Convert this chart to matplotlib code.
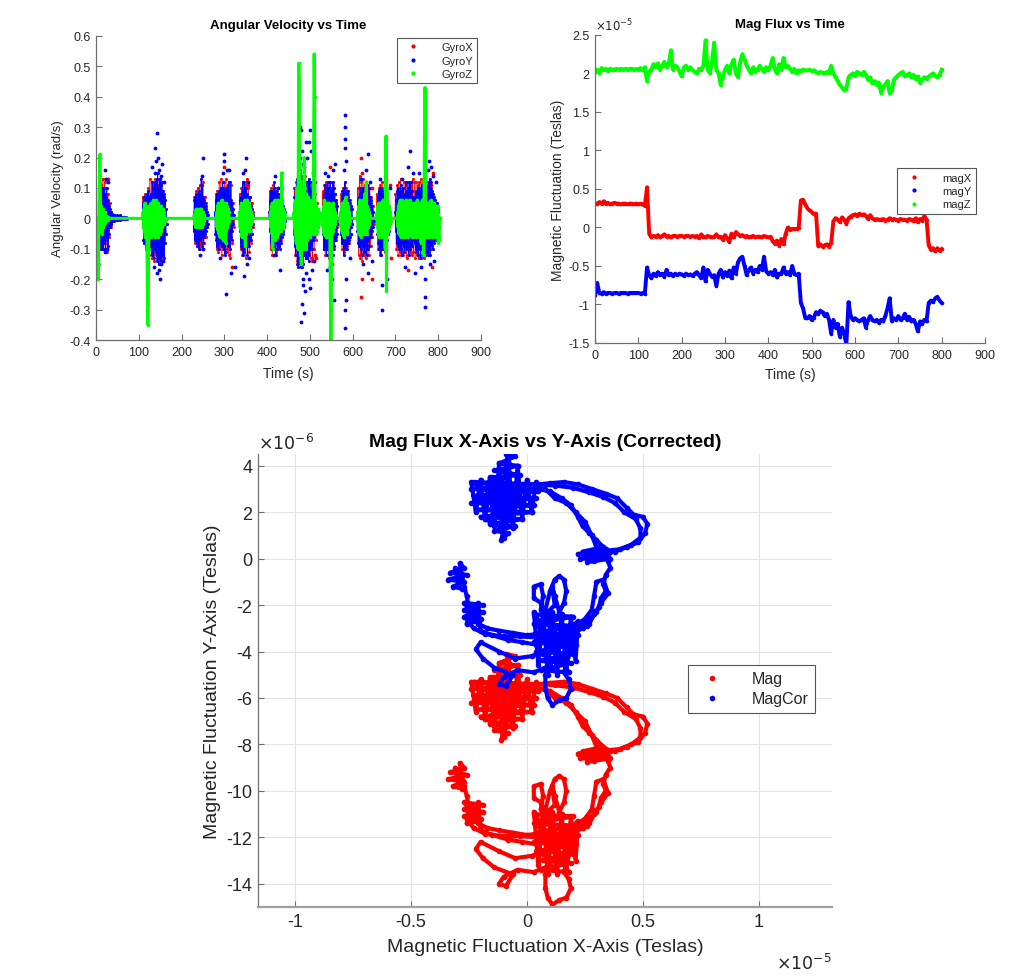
import numpy as np
import matplotlib
matplotlib.use("Agg")
import matplotlib.pyplot as plt
from matplotlib.lines import Line2D
from matplotlib.ticker import FormatStrFormatter

plt.rcParams['font.family'] = ['Liberation Sans', 'DejaVu Sans']
plt.rcParams['axes.unicode_minus'] = False

# ---------------- gyro data (rad/s), bursts sampled every GYRO_STEP_* seconds ----------------
GYRO_STEP_X = 2
GYRO_STEP_Y = 1
GYRO_STEP_Z = 1
GYRO_END = 803

gyro_x_bursts = [
    (8, [0.09, -0.1, 0.11, -0.09, 0.13, -0.1, 0.12, -0.08, 0.1, -0.11, 0.08, -0.06, 0.05, -0.03, 0.02]),
    (110, [0.07, -0.08, 0.08, -0.1, 0.07, -0.09, 0.1, -0.12, 0.13, -0.1, 0.12, -0.13, 0.11, -0.14, 0.13, -0.12,
           0.1, -0.1, 0.11, -0.11, 0.12, -0.1, 0.09, -0.08, 0.07, -0.05, 0.03, -0.02]),
    (230, [0.07, -0.08, 0.09, -0.07, 0.1, -0.09, 0.11, -0.1, 0.08, -0.09, 0.12, -0.08, 0.07, -0.06, 0.05, -0.03]),
    (280, [0.08, -0.1, 0.09, -0.11, 0.12, -0.09, 0.13, -0.12, 0.1, -0.1, 0.12, -0.11, 0.13, -0.1, 0.1, -0.12,
           0.09, -0.13, 0.11, -0.08, 0.05, -0.03]),
    (336, [0.08, -0.1, 0.1, -0.12, 0.12, -0.1, 0.11, -0.13, 0.13, -0.09, 0.1, -0.11, 0.07, -0.08, 0.05, -0.03, 0.02]),
    (406, [0.09, -0.1, 0.1, -0.12, 0.11, -0.1, 0.1, -0.11, 0.09, -0.1, 0.08, -0.09, 0.07, -0.07, 0.05, -0.04, 0.03, -0.02]),
    (464, [0.1, -0.12, 0.12, -0.14, 0.15, -0.13, 0.14, -0.12, 0.13, -0.15, 0.12, -0.12, 0.14, -0.13, 0.12, -0.13,
           0.11, -0.12, 0.1, -0.13, 0.12, -0.14, 0.12, -0.1, 0.08, -0.07, 0.05, -0.03]),
    (530, [0.09, -0.1, 0.11, -0.12, 0.12, -0.1, 0.1, -0.13, 0.12, -0.11, 0.1, -0.12, 0.11, -0.1, 0.08, -0.07, 0.05, -0.03]),
    (573, [0.08, -0.1, 0.1, -0.11, 0.09, -0.1, 0.1, -0.09, 0.08, -0.08, 0.06, -0.05, 0.04, -0.02]),
    (612, [0.1, -0.12, 0.14, -0.13, 0.12, -0.14, 0.13, -0.12, 0.11, -0.13, 0.12, -0.1, 0.11, -0.12, 0.1, -0.09,
           0.07, -0.06, 0.04, -0.02]),
    (657, [0.08, -0.1, 0.1, -0.12, 0.11, -0.12, 0.12, -0.1, 0.1, -0.11, 0.08, -0.09, 0.06, -0.05, 0.04, -0.02]),
    (700, [0.08, -0.1, 0.11, -0.12, 0.12, -0.11, 0.13, -0.12, 0.1, -0.12, 0.12, -0.1, 0.11, -0.13, 0.12, -0.12,
           0.1, -0.11, 0.12, -0.12, 0.13, -0.11, 0.12, -0.13, 0.12, -0.12, 0.11, -0.13, 0.12, -0.12, 0.13, -0.1,
           0.12, -0.13, 0.11, -0.12, 0.12, -0.11, 0.1, -0.12, 0.09, -0.1, 0.08, -0.07, 0.06, -0.05, 0.04, -0.03,
           0.02, -0.02, 0.02]),
]
gyro_x_outliers = [(27, 0.13), (25, -0.1), (150, 0.13), (152, -0.13), (300, 0.17), (318, -0.16), (356, 0.11),
                   (505, -0.13), (512, 0.12), (515, -0.13), (512, -0.12), (548, 0.17), (552, -0.15), (620, 0.2),
                   (620, -0.26), (622, 0.15), (622, -0.2), (645, -0.2), (645, 0.1), (678, 0.13), (688, 0.11),
                   (690, -0.13), (730, -0.17), (782, 0.11), (786, -0.16), (788, 0.15), (770, -0.12)]

gyro_y_bursts = [
    (8, [-0.05, 0.06, -0.08, 0.09, -0.1, 0.08, -0.09, 0.1, -0.1, 0.09, -0.08, 0.1, -0.07, 0.08, -0.1, 0.07,
         -0.06, 0.1, -0.05, 0.06, -0.09, 0.05, -0.05, 0.04, -0.03, 0.03, -0.02, 0.02, -0.02, 0.015, -0.01, 0.012,
         -0.01, 0.01, -0.008, 0.01, -0.006, 0.008, -0.005, 0.006, -0.006, 0.01, -0.004, 0.008, -0.005, 0.006,
         -0.003, 0.01, -0.004, 0.005, -0.003, 0.004, -0.002, 0.006, -0.003, 0.003, -0.002, 0.004, -0.002, 0.002,
         -0.001, 0.003, -0.001, 0.002, -0.001]),
    (110, [0.05, -0.07, 0.07, -0.08, 0.06, -0.06, 0.07, -0.09, 0.05, -0.1, 0.08, -0.04, 0.09, -0.06, 0.07, -0.03,
           0.03, -0.05, 0.08, -0.1, 0.07, -0.12, 0.12, -0.09, 0.08, -0.13, 0.1, -0.08, 0.12, -0.1, 0.12, -0.11,
           0.13, -0.14, 0.15, -0.12, 0.1, -0.15, 0.13, -0.1, 0.13, -0.14, 0.11, -0.15, 0.12, -0.12, 0.09, -0.1,
           0.08, -0.13, 0.07, -0.08, 0.06, -0.05, 0.03, -0.02]),
    (228, [0.02, -0.04, 0.06, -0.07, 0.07, -0.06, 0.08, -0.08, 0.06, -0.09, 0.07, -0.08, 0.09, -0.1, 0.06, -0.07,
           0.08, -0.06, 0.13, -0.09, 0.11, -0.06, 0.07, -0.08, 0.06, -0.06, 0.05, -0.05, 0.04, -0.04, 0.03, -0.03,
           0.02, -0.02, 0.01]),
    (278, [0.02, -0.05, 0.06, -0.07, 0.08, -0.09, 0.07, -0.08, 0.06, -0.1, 0.09, -0.07, 0.08, -0.08, 0.1, -0.06,
           0.07, -0.09, 0.12, -0.08, 0.1, -0.1, 0.09, -0.12, 0.08, -0.11, 0.1, -0.08, 0.09, -0.07, 0.11, -0.09,
           0.12, -0.08, 0.07, -0.1, 0.12, -0.06, 0.06, -0.07, 0.05, -0.04, 0.03, -0.02, 0.01]),
    (335, [0.02, -0.04, 0.06, -0.08, 0.07, -0.09, 0.08, -0.1, 0.12, -0.12, 0.09, -0.11, 0.12, -0.08, 0.1, -0.07,
           0.1, -0.09, 0.08, -0.12, 0.07, -0.08, 0.06, -0.09, 0.07, -0.06, 0.05, -0.07, 0.04, -0.05, 0.03, -0.02,
           0.01]),
    (405, [0.02, -0.04, 0.06, -0.08, 0.09, -0.07, 0.08, -0.1, 0.09, -0.08, 0.1, -0.09, 0.12, -0.1, 0.08, -0.12,
           0.09, -0.08, 0.07, -0.1, 0.08, -0.07, 0.06, -0.09, 0.07, -0.1, 0.06, -0.08, 0.05, -0.06, 0.06, -0.05,
           0.04, -0.04, 0.03, -0.03, 0.02, -0.01]),
    (463, [-0.05, 0.07, -0.09, 0.1, -0.12, 0.09, -0.1, 0.13, -0.15, 0.12, -0.16, 0.14, -0.13, 0.16, -0.15, 0.15,
           -0.16, 0.14, -0.16, 0.13, -0.12, 0.12, -0.15, 0.1, -0.12, 0.12, -0.1, 0.1, -0.13, 0.12, -0.09, 0.08,
           -0.12, 0.12, -0.14, 0.13, -0.12, 0.12, -0.1, 0.09, -0.08, 0.07, -0.1, 0.06, -0.07, 0.05, -0.06, 0.07,
           -0.05, 0.04, -0.03, 0.02, -0.01]),
    (530, [0.02, -0.05, 0.07, -0.1, 0.08, -0.09, 0.11, -0.08, 0.1, -0.12, 0.09, -0.1, 0.12, -0.08, 0.1, -0.09,
           0.08, -0.11, 0.12, -0.07, 0.09, -0.1, 0.07, -0.12, 0.12, -0.1, 0.1, -0.09, 0.08, -0.07, 0.06, -0.06,
           0.05, -0.05, 0.04, -0.02]),
    (572, [0.02, -0.05, 0.07, -0.08, 0.09, -0.07, 0.08, -0.12, 0.1, -0.1, 0.12, -0.09, 0.09, -0.08, 0.08, -0.1,
           0.07, -0.08, 0.09, -0.07, 0.06, -0.06, 0.05, -0.05, 0.04, -0.03, 0.03, -0.02]),
    (610, [0.02, -0.04, 0.06, -0.08, 0.07, -0.09, 0.08, -0.07, 0.1, -0.1, 0.08, -0.12, 0.09, -0.08, 0.1, -0.09,
           0.07, -0.11, 0.08, -0.08, 0.12, -0.09, 0.09, -0.12, 0.11, -0.1, 0.08, -0.07, 0.1, -0.09, 0.07, -0.06,
           0.06, -0.06, 0.05, -0.04, 0.04, -0.03, 0.02, -0.01]),
    (657, [0.02, -0.05, 0.07, -0.08, 0.09, -0.1, 0.08, -0.09, 0.1, -0.12, 0.1, -0.09, 0.09, -0.1, 0.08, -0.09,
           0.07, -0.1, 0.08, -0.08, 0.07, -0.09, 0.06, -0.07, 0.05, -0.05, 0.04, -0.04, 0.03, -0.03, 0.02, -0.01]),
    (700, [0.02, -0.04, 0.06, -0.08, 0.09, -0.07, 0.1, -0.09, 0.08, -0.1, 0.09, -0.08, 0.11, -0.1, 0.08, -0.12,
           0.09, -0.08, 0.1, -0.09, 0.07, -0.11, 0.08, -0.09, 0.12, -0.08, 0.09, -0.1, 0.08, -0.07, 0.1, -0.12,
           0.12, -0.09, 0.08, -0.1, 0.12, -0.08, 0.09, -0.09, 0.07, -0.07, 0.06, -0.05, 0.05, -0.08, 0.07, -0.1,
           0.09, -0.11, 0.08, -0.09, 0.1, -0.12, 0.09, -0.08, 0.1, -0.1, 0.08, -0.13, 0.09, -0.09, 0.11, -0.1,
           0.09, -0.12, 0.1, -0.12, 0.11, -0.12, 0.12, -0.1, 0.09, -0.11, 0.1, -0.09, 0.11, -0.12, 0.12, -0.1,
           0.13, -0.12, 0.1, -0.08, 0.12, -0.09, 0.09, -0.1, 0.08, -0.07, 0.07, -0.08, 0.06, -0.06, 0.05, -0.07,
           0.05, -0.05, 0.04, -0.04, 0.03, -0.03]),
]
gyro_y_outliers = [(22, 0.16), (24, 0.13), (20, -0.11), (26, -0.1), (28, 0.12),
                   (132, 0.17), (135, -0.16), (138, 0.23), (140, 0.19), (142, 0.28), (143, -0.18), (145, 0.2),
                   (147, -0.17), (148, 0.16), (150, -0.2), (151, 0.14), (153, -0.15), (155, 0.18), (157, -0.14),
                   (160, 0.12), (145, -0.13), (139, 0.15),
                   (247, 0.14), (249, 0.2), (251, -0.1), (243, -0.12),
                   (296, 0.15), (299, 0.21), (300, 0.19), (304, -0.25), (307, 0.16), (311, 0.16), (315, -0.18),
                   (325, -0.16), (290, -0.13),
                   (344, 0.15), (345, -0.19), (348, 0.16), (350, 0.2), (352, -0.15), (355, 0.12), (358, -0.13),
                   (418, 0.14), (425, 0.1), (431, -0.17), (415, -0.12),
                   (476, 0.2), (478, 0.3), (479, -0.34), (480, 0.29), (481, -0.28), (482, 0.22), (483, -0.2),
                   (484, 0.18), (485, -0.22), (487, 0.17), (489, -0.24), (490, 0.25), (494, 0.2), (497, -0.2),
                   (499, 0.25), (500, 0.29), (501, -0.23), (502, 0.22), (505, -0.17), (508, 0.15), (510, -0.14),
                   (486, -0.31), (492, -0.18),
                   (535, 0.15), (543, 0.14), (548, -0.16), (555, 0.16), (557, -0.27), (558, 0.18), (540, -0.17),
                   (552, -0.2),
                   (580, 0.16), (581, 0.26), (582, 0.34), (582, 0.3), (582, 0.23), (583, -0.36), (583, -0.3),
                   (584, -0.27), (584, -0.2), (585, 0.19), (594, -0.13),
                   (620, 0.13), (630, 0.16), (635, 0.21), (636, -0.18), (640, 0.12), (625, -0.15), (645, -0.14),
                   (665, 0.13), (668, -0.3), (668, -0.22), (675, 0.12), (680, -0.2), (688, 0.1),
                   (715, 0.13), (722, -0.16), (730, 0.17), (733, 0.22), (740, 0.15), (745, -0.18), (755, 0.15),
                   (760, -0.16), (768, -0.29), (768, -0.26), (769, -0.2), (775, 0.16), (778, 0.19), (780, -0.15),
                   (784, 0.17), (788, 0.14), (790, -0.14), (795, 0.12)]

gyro_z_bursts = [
    (3, [0.0, -0.1, -0.2, -0.15, 0.05, 0.14, 0.21, 0.12, -0.03, 0.04, -0.05, 0.03, -0.04, 0.03, -0.03, 0.02,
         -0.02, 0.02, -0.015, 0.01, -0.01, 0.008, -0.006, 0.005, -0.004, 0.003]),
    (110, [0.02, -0.03, 0.03, -0.04, 0.05, -0.06, 0.04, -0.05, 0.03, -0.08, -0.2, -0.35, -0.28, -0.1, 0.04, -0.05,
           0.04, -0.03, 0.05, -0.06, 0.04, -0.04, 0.05, -0.05, 0.06, -0.04, 0.05, -0.06, 0.04, -0.05, 0.06, -0.04,
           0.05, -0.05, 0.04, -0.06, 0.05, -0.04, 0.04, -0.05, 0.04, -0.03, 0.04, -0.04, 0.03, -0.03, 0.03, -0.02,
           0.02, -0.02, 0.01, -0.01]),
    (230, [0.01, -0.02, 0.02, -0.03, 0.03, -0.02, 0.03, -0.03, 0.02, -0.03, 0.03, -0.02, 0.02, -0.03, 0.03, -0.02,
           0.03, -0.03, 0.02, -0.02, 0.02, -0.02, 0.01, -0.01]),
    (282, [0.02, -0.03, 0.04, -0.04, 0.05, -0.05, 0.04, -0.06, 0.05, -0.04, 0.04, -0.05, 0.06, -0.04, 0.05, -0.07,
           0.04, -0.05, 0.05, -0.06, 0.04, -0.08, 0.05, -0.04, 0.04, -0.03, 0.03, -0.02, 0.02, -0.01]),
    (336, [0.02, -0.03, 0.04, -0.04, 0.05, -0.06, 0.04, -0.05, 0.05, -0.04, 0.04, -0.05, 0.06, -0.09, 0.04, -0.05,
           0.05, -0.04, 0.06, -0.03, 0.04, -0.04, 0.05, -0.04, 0.03, -0.03, 0.02, -0.02, 0.01]),
    (408, [0.02, -0.03, 0.04, -0.05, 0.05, -0.1, 0.05, -0.06, 0.04, -0.05, 0.06, -0.07, 0.05, -0.04, 0.05, -0.06,
           0.04, -0.05, 0.06, -0.04, 0.05, -0.03, 0.04, -0.04, 0.03, -0.04, 0.15, 0.1, -0.03, 0.03, -0.03, 0.02,
           -0.02, 0.01]),
    (463, [0.02, -0.03, 0.05, -0.05, 0.06, -0.08, 0.1, -0.06, 0.08, -0.1, 0.2, 0.51, 0.45, -0.05, 0.08, -0.12,
           0.1, -0.15, 0.12, -0.08, 0.1, -0.1, 0.08, 0.12, 0.2, 0.1, -0.08, 0.06, -0.1, 0.08, -0.07, 0.06, -0.05,
           0.07, -0.06, 0.05, -0.05, 0.06, -0.06, 0.05, -0.04, 0.05, -0.04, 0.04, -0.05, 0.06, 0.3, 0.54, 0.4,
           -0.04, 0.05, -0.05, 0.04, -0.04, 0.03, -0.03, 0.03, -0.02, 0.02, -0.02, 0.01]),
    (530, [0.02, -0.03, 0.04, -0.05, 0.06, -0.04, 0.05, -0.06, 0.05, -0.05, 0.04, -0.06, 0.05, -0.04, 0.05, -0.06,
           0.04, -0.1, -0.25, -0.4, -0.3, -0.05, 0.04, -0.04, 0.05, -0.03, 0.03, -0.03, 0.02, -0.02, 0.01]),
    (572, [0.02, -0.03, 0.04, -0.04, 0.05, -0.05, 0.04, -0.06, 0.05, -0.04, 0.06, -0.05, 0.07, -0.04, 0.05, -0.05,
           0.04, -0.03, 0.03, -0.02, 0.02, -0.01]),
    (612, [0.02, -0.03, 0.04, -0.05, 0.06, -0.05, 0.05, -0.06, 0.04, -0.05, 0.05, -0.04, 0.06, -0.05, 0.04, -0.04,
           0.08, -0.05, 0.06, -0.04, 0.12, -0.05, 0.04, -0.03, 0.03, -0.03, 0.02, -0.02, 0.01]),
    (657, [0.02, -0.03, 0.04, -0.05, 0.05, -0.06, 0.05, -0.04, 0.05, -0.05, 0.04, -0.06, 0.05, -0.05, 0.06, -0.05,
           0.04, -0.04, 0.05, -0.1, 0.05, 0.27, -0.24, 0.1, -0.05, 0.04, -0.04, 0.04, -0.03, 0.03, -0.02, 0.02,
           -0.01]),
    (705, [0.02, -0.03, 0.04, -0.05, 0.05, -0.04, 0.06, -0.06, 0.05, -0.05, 0.06, -0.04, 0.05, -0.06, 0.05, -0.05,
           0.04, -0.06, 0.05, -0.05, 0.06, -0.04, 0.05, -0.05, 0.04, -0.06, 0.05, -0.05, 0.06, -0.05, 0.04, -0.05,
           0.05, -0.06, 0.05, -0.05, 0.04, -0.06, 0.05, -0.05, 0.04, -0.05, 0.05, -0.06, 0.05, -0.05, 0.06, -0.05,
           0.04, -0.05, 0.05, -0.06, 0.05, -0.05, 0.04, -0.08, 0.05, -0.05, 0.06, -0.05, 0.04, -0.12, 0.1, 0.3,
           0.43, 0.35, 0.05, -0.06, 0.05, -0.05, 0.04, -0.05, 0.05, -0.06, 0.05, -0.05, 0.04, -0.05, 0.06, -0.05,
           0.05, -0.06, 0.05, -0.05, 0.04, -0.05, 0.05, -0.06, 0.04, -0.05, 0.04, -0.06, 0.03, -0.05, 0.04, -0.08,
           -0.06, -0.07]),
]

# ---------------- magnetometer vs time, one sample every MAG_STEP s (units of 1e-5 T) ----------------
MAG_STEP = 5
mag_x = [0.32, 0.30, 0.33, 0.31, 0.34, 0.31, 0.32, 0.30, 0.31, 0.32, 0.31, 0.31, 0.30, 0.31, 0.31, 0.30,
         0.31, 0.31, 0.30, 0.31, 0.30, 0.31, 0.30, 0.28, 0.52,
         -0.08, -0.13, -0.11, -0.12, -0.10, -0.13, -0.11, -0.09, -0.12, -0.11, -0.13, -0.11, -0.11, -0.12, -0.11,
         -0.11, -0.12, -0.11, -0.11, -0.12, -0.11, -0.12, -0.11, -0.14, -0.09, -0.12, -0.13, -0.11, -0.12, -0.13,
         -0.12, -0.09, -0.13, -0.12, -0.16, -0.10, -0.14, -0.19, -0.08, -0.13, -0.06, -0.09, -0.11, -0.10, -0.12,
         -0.11, -0.13, -0.12, -0.11, -0.13, -0.12, -0.12, -0.13, -0.11, -0.12, -0.13, -0.12, -0.18, -0.21,
         -0.17, -0.24, -0.15, -0.22, -0.08, 0.0, -0.03, -0.02, -0.02, -0.02, -0.01,
         0.35, 0.36, 0.30, 0.25, 0.22, 0.20, 0.17, 0.18,
         -0.24, -0.22, -0.25, -0.23, -0.22, -0.25, -0.20,
         0.08, 0.12, 0.10, 0.07, 0.13, 0.10, 0.05, 0.12, 0.14, 0.16, 0.17, 0.15, 0.18, 0.16, 0.17, 0.15, 0.11,
         0.16, 0.12, 0.10, 0.11, 0.10, 0.10, 0.11, 0.09, 0.10, 0.12, 0.10, 0.11, 0.10, 0.09, 0.11, 0.10, 0.10,
         0.09, 0.11, 0.10, 0.08, 0.12, 0.07, 0.11, 0.09, 0.15, 0.10,
         -0.23, -0.29, -0.27, -0.31, -0.27, -0.30, -0.28]
mag_y = [-0.88, -0.72, -0.85, -0.86, -0.84, -0.86, -0.85, -0.85, -0.86, -0.85, -0.85, -0.86, -0.85, -0.85,
         -0.85, -0.86, -0.85, -0.85, -0.85, -0.85, -0.85, -0.86, -0.85, -0.86,
         -0.52, -0.62, -0.66, -0.60, -0.63, -0.58, -0.62, -0.60, -0.64, -0.55, -0.62, -0.60, -0.63, -0.60, -0.62,
         -0.60, -0.61, -0.63, -0.60, -0.62, -0.61, -0.63, -0.60, -0.58, -0.62, -0.66, -0.52, -0.70, -0.55, -0.60,
         -0.64, -0.62, -0.76, -0.60, -0.55, -0.65, -0.58, -0.63, -0.56, -0.66, -0.52, -0.60, -0.45, -0.40, -0.38,
         -0.50, -0.62, -0.55, -0.52, -0.60, -0.55, -0.58, -0.50, -0.55, -0.38, -0.57, -0.60, -0.58, -0.62, -0.55,
         -0.65, -0.60, -0.60, -0.52, -0.60, -0.58, -0.62, -0.50, -0.60, -0.62, -0.60,
         -0.98, -1.05, -1.17, -1.18, -1.15, -1.20, -1.17, -1.10, -1.12, -1.08, -1.10, -1.15, -1.12, -1.20, -1.38,
         -1.20, -1.30, -1.25, -1.42, -1.30, -1.38, -1.52, -0.97, -1.15, -1.20, -1.18, -1.20, -1.22, -1.20, -1.18,
         -1.30, -1.20, -1.15, -1.20, -1.22, -1.20, -1.24, -1.20, -1.22, -1.15, -1.05, -0.92, -1.22, -1.18, -1.20,
         -1.15, -1.20, -1.18, -1.12, -1.20, -1.16, -1.22, -1.20, -1.25, -1.35, -1.22, -1.25, -1.20, -1.22,
         -0.98, -0.95, -0.97, -0.92, -0.90, -0.95, -0.98]
mag_z = [2.02, 2.05, 2.00, 2.07, 2.04, 2.06, 2.03, 2.06, 2.05, 2.05, 2.06, 2.05, 2.06, 2.05, 2.06, 2.05,
         2.06, 2.06, 2.05, 2.06, 2.05, 2.07, 2.04, 2.08, 1.90, 2.02, 2.05, 2.12, 2.08, 2.13, 2.05, 2.10, 2.15,
         2.08, 2.12, 2.30, 2.05, 2.10, 2.08, 2.02, 1.96, 2.08, 2.10, 2.05, 2.08, 2.04, 2.02, 2.00, 2.06, 2.04,
         2.10, 2.43, 2.05, 2.00, 2.15, 2.40, 2.05, 2.00, 1.85, 1.95, 2.05, 2.10, 2.00, 2.12, 2.18, 2.00, 1.95,
         2.15, 2.25, 2.18, 2.10, 2.05, 2.00, 2.08, 2.02, 2.05, 2.10, 2.06, 2.02, 2.08, 2.04, 2.10, 2.20, 2.05,
         2.00, 2.12, 2.05, 2.20, 2.08, 2.10, 2.06, 2.02, 2.06, 2.00, 2.04, 2.03, 2.05, 2.04, 2.04, 2.05, 2.03,
         2.04, 2.02, 2.00, 2.02, 2.01, 2.00, 2.02, 2.00, 2.10, 2.00, 1.95, 1.90, 1.85, 1.82, 1.78, 1.80, 1.95,
         1.98, 2.00, 1.97, 2.02, 2.00, 1.98, 2.02, 1.98, 1.92, 1.95, 1.87, 1.90, 1.85, 1.88, 1.75, 1.82, 1.86,
         1.90, 1.74, 1.78, 1.92, 1.95, 1.98, 2.00, 2.02, 1.96, 1.98, 2.00, 1.95, 1.98, 1.93, 1.96, 1.88, 1.92,
         1.95, 1.93, 1.96, 1.98, 2.00, 1.97, 1.95, 1.98, 2.05]

# ---------------- X vs Y trajectory (x in 1e-5 T, y in 1e-6 T) ----------------
mag_path = [
    # right blob (start)
    (0.30, -8.4), (0.22, -8.4), (0.36, -8.3), (0.23, -8.6), (0.36, -8.6), (0.26, -8.75), (0.33, -8.1),
    (0.24, -8.3), (0.35, -8.5), (0.29, -8.7), (0.33, -8.3),
    # outer arc up, then back down
    (0.38, -8.3), (0.43, -8.1), (0.48, -7.9), (0.51, -7.5), (0.52, -7.1), (0.50, -6.8), (0.46, -6.7),
    (0.43, -6.4), (0.39, -6.0), (0.34, -5.8), (0.28, -5.6), (0.22, -5.4), (0.16, -5.3), (0.10, -5.35),
    (0.05, -5.4), (0.12, -5.45), (0.20, -5.55), (0.27, -5.75), (0.33, -5.95), (0.38, -6.2), (0.42, -6.6),
    (0.47, -6.9), (0.49, -7.3), (0.49, -7.7), (0.45, -8.0), (0.40, -8.2), (0.35, -8.25), (0.30, -8.1),
    # diagonal up-left
    (0.28, -7.6), (0.25, -7.0), (0.21, -6.6), (0.17, -6.2), (0.12, -6.0), (0.08, -5.6),
    # top-left blob
    (0.00, -5.6), (-0.23, -5.3), (0.04, -5.4), (-0.24, -5.6), (0.05, -5.7), (-0.23, -5.9), (0.04, -6.0),
    (-0.24, -6.2), (0.03, -6.3), (-0.22, -6.5), (0.02, -6.6), (-0.20, -6.8), (-0.02, -6.9), (-0.16, -7.1),
    (-0.05, -7.2), (-0.14, -7.4), (-0.08, -7.5), (-0.11, -7.8), (-0.10, -7.3), (-0.18, -6.9), (-0.10, -6.4),
    (-0.20, -6.0), (-0.08, -5.8), (-0.15, -5.1), (-0.03, -5.0), (-0.14, -4.8), (-0.04, -4.6), (-0.12, -4.5),
    (-0.05, -4.2), (-0.09, -4.1), (-0.07, -4.6), (-0.11, -5.3), (-0.18, -5.6), (-0.06, -6.1), (-0.15, -6.4),
    (-0.02, -6.3), (-0.12, -6.0),
    (-0.24, -5.3), (-0.22, -6.6), (-0.20, -5.2), (-0.18, -6.9), (-0.16, -5.1), (-0.14, -7.2), (-0.12, -4.5),
    (-0.10, -7.7), (-0.08, -4.2), (-0.06, -7.3), (-0.04, -4.6), (-0.02, -6.9), (0.00, -5.2), (0.02, -6.6),
    (0.04, -5.3), (0.05, -5.6),
    # diagonal down-right
    (0.10, -5.7), (0.15, -6.0), (0.19, -6.3), (0.22, -6.8), (0.24, -7.2), (0.27, -7.5), (0.30, -7.8),
    (0.33, -8.1), (0.34, -8.2),
    # right side going down
    (0.35, -8.7), (0.36, -9.0), (0.34, -9.3), (0.33, -9.7), (0.34, -10.0), (0.32, -10.3), (0.31, -10.7),
    (0.29, -11.0), (0.27, -11.4), (0.24, -11.6), (0.21, -11.7), (0.26, -11.3), (0.30, -10.9), (0.32, -10.5),
    (0.35, -10.1), (0.33, -9.5), (0.30, -9.6), (0.29, -10.2), (0.28, -10.8), (0.25, -11.2),
    # across to the left and the left-middle blob
    (0.15, -11.9), (0.08, -11.8), (0.00, -11.9), (-0.06, -11.8), (-0.12, -11.7), (-0.17, -11.6),
    (-0.21, -11.4), (-0.27, -10.5), (-0.19, -10.6), (-0.27, -10.8), (-0.19, -10.9), (-0.27, -11.1),
    (-0.20, -11.2), (-0.26, -11.4), (-0.22, -10.7), (-0.25, -11.0), (-0.23, -11.3), (-0.21, -10.5),
    (-0.20, -11.7), (-0.15, -11.9), (-0.08, -12.1), (-0.02, -12.2), (0.04, -12.3), (0.08, -12.2),
    # lower cluster
    (0.03, -11.0), (0.20, -11.1), (0.03, -11.4), (0.21, -11.5), (0.04, -11.8), (0.22, -11.9), (0.03, -12.2),
    (0.21, -12.3), (0.04, -12.6), (0.20, -12.7), (0.05, -13.0), (0.19, -13.1), (0.06, -13.4), (0.18, -13.5),
    (0.03, -10.9), (0.05, -13.2), (0.07, -10.8), (0.09, -13.6), (0.11, -10.9), (0.13, -13.6), (0.15, -11.0),
    (0.17, -13.5), (0.19, -11.1), (0.21, -13.0), (0.22, -11.5),
    # bottom box
    (0.16, -13.5), (0.18, -13.8), (0.19, -14.2), (0.17, -14.6), (0.14, -14.7), (0.11, -14.9), (0.09, -14.6),
    (0.08, -14.2), (0.08, -13.6),
    # lower-left excursion
    (0.10, -13.2), (0.03, -13.5), (-0.04, -13.4), (-0.10, -13.7), (-0.12, -14.0), (-0.09, -14.1),
    (-0.06, -13.6), (-0.14, -13.3), (-0.19, -12.9), (-0.22, -12.5), (-0.20, -12.2), (-0.12, -12.6),
    (-0.05, -12.9), (0.02, -12.8), (0.10, -12.5),
    # loops above the cluster
    (0.10, -11.6), (0.08, -10.8), (0.10, -10.0), (0.12, -9.5), (0.14, -9.35), (0.16, -9.5), (0.17, -10.0),
    (0.16, -10.5), (0.14, -10.9), (0.12, -10.2), (0.11, -9.8), (0.12, -10.6), (0.08, -11.0),
    (0.06, -10.5), (0.03, -10.3), (0.03, -9.8), (0.06, -9.7), (0.07, -10.2), (0.06, -10.8),
    (0.12, -11.8), (0.19, -12.2), (0.07, -12.7), (0.14, -12.0), (0.22, -11.3), (0.26, -11.5), (0.20, -11.8),
    # left arm and left-top blob (end)
    (0.05, -12.0), (-0.03, -11.95), (-0.10, -11.95), (-0.18, -11.85), (-0.23, -11.6), (-0.26, -11.2),
    (-0.25, -10.7), (-0.26, -10.2), (-0.27, -9.8),
    (-0.29, -8.8), (-0.27, -9.0), (-0.33, -9.2), (-0.26, -9.3), (-0.34, -9.5), (-0.27, -9.6), (-0.32, -9.8),
    (-0.28, -9.9), (-0.30, -9.4), (-0.31, -9.0), (-0.29, -9.6),
]
mag_cor_offset_y = 8.6  # hard-iron correction on the Y axis, 1e-6 T


def burst_series(bursts, step):
    t, v = [0.0], [0.0]
    for start, vals in bursts:
        t.append(start - 1)
        v.append(0.0)
        t.extend(start + step * i for i in range(len(vals)))
        v.extend(vals)
        t.append(start + step * len(vals))
        v.append(0.0)
    t.append(GYRO_END)
    v.append(0.0)
    return t, v


gx_t, gx_v = burst_series(gyro_x_bursts, GYRO_STEP_X)
gy_t, gy_v = burst_series(gyro_y_bursts, GYRO_STEP_Y)
gz_t, gz_v = burst_series(gyro_z_bursts, GYRO_STEP_Z)
gxo_t, gxo_v = zip(*gyro_x_outliers)
gyo_t, gyo_v = zip(*gyro_y_outliers)

tick_col = '#262626'
spine_col = '#6e6e6e'


def style_axes(ax, fs):
    for s in ['top', 'right']:
        ax.spines[s].set_visible(False)
    for s in ['left', 'bottom']:
        ax.spines[s].set_color(spine_col)
        ax.spines[s].set_linewidth(0.9)
    ax.tick_params(direction='in', length=4, width=0.8, colors=spine_col, labelcolor=tick_col,
                   labelsize=fs, pad=4)


def matlab_legend(ax, handles, labels, fs, anchor):
    leg = ax.legend(handles, labels, loc='upper right', bbox_to_anchor=anchor, fontsize=fs,
                    handlelength=2.2, handletextpad=1.4, borderpad=0.4, labelspacing=0.3,
                    fancybox=False, framealpha=1, edgecolor='#555555')
    leg.get_frame().set_linewidth(0.8)
    for txt in leg.get_texts():
        txt.set_color(tick_col)
    return leg


fig = plt.figure(figsize=(10.28, 9.78), dpi=100)

# ---- Angular velocity ----
ax1 = fig.add_axes([0.0934, 0.6513, 0.3745, 0.311])
ax1.plot(gx_t, gx_v, color='#ff0000', lw=0.7, marker='.', ms=2.5)
ax1.plot(gxo_t, gxo_v, '.', color='#ff0000', ms=3.5)
ax1.plot(gy_t, gy_v, color='#0000ff', lw=0.7, marker='.', ms=2.5)
ax1.plot(gyo_t, gyo_v, '.', color='#0000ff', ms=3.5)
ax1.plot(gz_t, gz_v, color='#00ff00', lw=2.2, marker='.', ms=3)
ax1.set_xlim(0, 900)
ax1.set_ylim(-0.4, 0.6)
ax1.set_xticks(np.arange(0, 901, 100))
ax1.set_yticks([-0.4, -0.3, -0.2, -0.1, 0, 0.1, 0.2, 0.3, 0.4, 0.5, 0.6])
ax1.yaxis.set_major_formatter(FormatStrFormatter('%g'))
style_axes(ax1, 9)
ax1.set_title('Angular Velocity vs Time', fontsize=9.5, fontweight='bold', pad=6)
ax1.set_xlabel('Time (s)', fontsize=10, color=tick_col, labelpad=6)
ax1.set_ylabel('Angular Velocity (rad/s)', fontsize=9.5, color=tick_col, labelpad=4)
h = [Line2D([], [], color=c, marker='.', ls='none', ms=4) for c in ['#ff0000', '#0000ff', '#00ff00']]
matlab_legend(ax1, h, ['GyroX', 'GyroY', 'GyroZ'], 8, (1.005, 1.012))

# ---- Mag flux vs time ----
ax2 = fig.add_axes([0.5788, 0.6483, 0.3794, 0.315])
for vals, c in [(mag_x, '#ff0000'), (mag_y, '#0000ff'), (mag_z, '#00ff00')]:
    t = np.arange(len(vals)) * MAG_STEP
    ax2.plot(t, vals, color=c, lw=2.8, marker='.', ms=3)
ax2.set_xlim(0, 900)
ax2.set_ylim(-1.5, 2.5)
ax2.set_xticks(np.arange(0, 901, 100))
ax2.set_yticks([-1.5, -1, -0.5, 0, 0.5, 1, 1.5, 2, 2.5])
ax2.yaxis.set_major_formatter(FormatStrFormatter('%g'))
style_axes(ax2, 9)
ax2.set_title('Mag Flux vs Time', fontsize=9.5, fontweight='bold', pad=6)
ax2.set_xlabel('Time (s)', fontsize=10, color=tick_col, labelpad=5)
ax2.set_ylabel('Magnetic Fluctuation (Teslas)', fontsize=10, color=tick_col, labelpad=2)
ax2.text(0.0, 1.004, r'$\times10^{-5}$', transform=ax2.transAxes, fontsize=8.5, color=tick_col,
         ha='left', va='bottom')
matlab_legend(ax2, h, ['magX', 'magY', 'magZ'], 8, (0.99, 0.585))

# ---- X vs Y ----
path = np.array(mag_path)
ax3 = fig.add_axes([0.251, 0.0716, 0.558, 0.463])
ax3.grid(True, color='#e3e3e3', lw=0.8)
ax3.set_axisbelow(True)
ax3.plot(path[:, 0], path[:, 1], color='#ff0000', lw=3.0, marker='.', ms=6)
ax3.plot(path[:, 0], path[:, 1] + mag_cor_offset_y, color='#0000ff', lw=3.0, marker='.', ms=6)
ax3.set_xlim(-1.16, 1.315)
ax3.set_ylim(-15, 4.5)
ax3.set_xticks([-1, -0.5, 0, 0.5, 1])
ax3.set_yticks(np.arange(-14, 4.1, 2))
ax3.xaxis.set_major_formatter(FormatStrFormatter('%g'))
ax3.yaxis.set_major_formatter(FormatStrFormatter('%g'))
style_axes(ax3, 13)
ax3.spines['bottom'].set_linewidth(1.6)
ax3.spines['bottom'].set_color('#a0a0a0')
ax3.set_title('Mag Flux X-Axis vs Y-Axis (Corrected)', fontsize=14, fontweight='bold', pad=6)
ax3.set_xlabel('Magnetic Fluctuation X-Axis (Teslas)', fontsize=14, color=tick_col, labelpad=6)
ax3.set_ylabel('Magnetic Fluctuation Y-Axis (Teslas)', fontsize=14, color=tick_col, labelpad=4)
ax3.text(0.0, 1.005, r'$\times10^{-6}$', transform=ax3.transAxes, fontsize=12.5, color=tick_col,
         ha='left', va='bottom')
ax3.text(1.0, -0.1, r'$\times10^{-5}$', transform=ax3.transAxes, fontsize=12.5, color=tick_col,
         ha='right', va='top')
h3 = [Line2D([], [], color=c, marker='.', ls='none', ms=6) for c in ['#ff0000', '#0000ff']]
matlab_legend(ax3, h3, ['Mag', 'MagCor'], 11.5, (0.985, 0.552))

fig.savefig('out.png', dpi=100)
